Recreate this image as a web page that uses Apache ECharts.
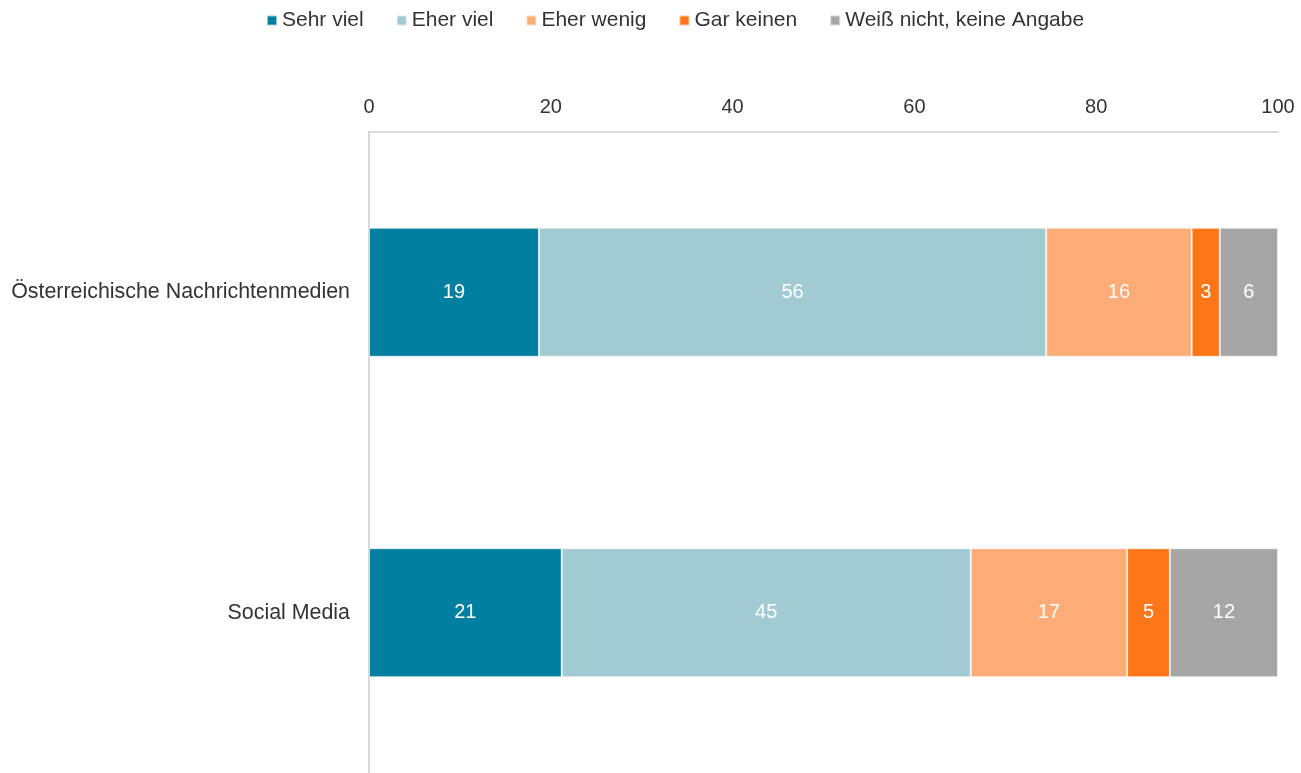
<!DOCTYPE html>
<html>
<head>
<meta charset="utf-8">
<script src="https://cdn.jsdelivr.net/npm/echarts@6/dist/echarts.min.js"></script>
<style>html,body{margin:0;padding:0;background:#fff;}#c{width:1301px;height:773px;}</style>
</head>
<body>
<div id="c"></div>
<script>
const categories = ['Österreichische Nachrichtenmedien', 'Social Media'];
const seriesNames = ['Sehr viel', 'Eher viel', 'Eher wenig', 'Gar keinen', 'Weiß nicht, keine Angabe'];
const sehrViel = [18.7, 21.2];
const eherViel = [55.8, 45.0];
const eherWenig = [16.0, 17.2];
const garKeinen = [3.1, 4.7];
const weissNicht = [6.4, 11.9];
const xTicks = [0, 20, 40, 60, 80, 100];
const colors = ['#007FA0', '#A2CAD3', '#FDAB77', '#FF7619', '#A6A6A6'];

const values = [sehrViel, eherViel, eherWenig, garKeinen, weissNicht];
const font = 'Liberation Sans, Arial, sans-serif';

const chart = echarts.init(document.getElementById('c'), null, {renderer: 'canvas'});
chart.setOption({
  animation: false,
  textStyle: {fontFamily: font},
  color: colors,
  legend: {
    data: seriesNames,
    top: 10,
    left: 266,
    padding: 0,
    icon: 'rect',
    itemWidth: 10,
    itemHeight: 10,
    itemGap: 32,
    textStyle: {fontSize: 21, color: '#333', fontFamily: font, padding: [0, 0, 0, 0]}
  },
  grid: {left: 369, right: 23, top: 132, height: 646, containLabel: false},
  xAxis: {
    type: 'value', position: 'top', min: xTicks[0], max: xTicks[xTicks.length - 1], interval: 20,
    axisLine: {show: true, lineStyle: {color: '#D9D9D9', width: 2}},
    axisTick: {show: false},
    splitLine: {show: false},
    axisLabel: {fontSize: 20, color: '#333', margin: 15, fontFamily: font}
  },
  yAxis: {
    type: 'category', data: categories, inverse: true,
    axisLine: {show: true, lineStyle: {color: '#D9D9D9', width: 2}},
    axisTick: {show: false},
    axisLabel: {fontSize: 21.4, color: '#333', margin: 19, fontFamily: font}
  },
  series: seriesNames.map((n, i) => ({
    name: n, type: 'bar', stack: 'total', barWidth: 129,
    data: values[i],
    itemStyle: {color: colors[i], borderColor: 'rgba(255,255,255,0.6)', borderWidth: 1},
    label: {show: true, position: 'inside', color: '#fff', fontSize: 20, fontFamily: font,
      formatter: p => Math.round(p.value)}
  }))
});
</script>
</body>
</html>
